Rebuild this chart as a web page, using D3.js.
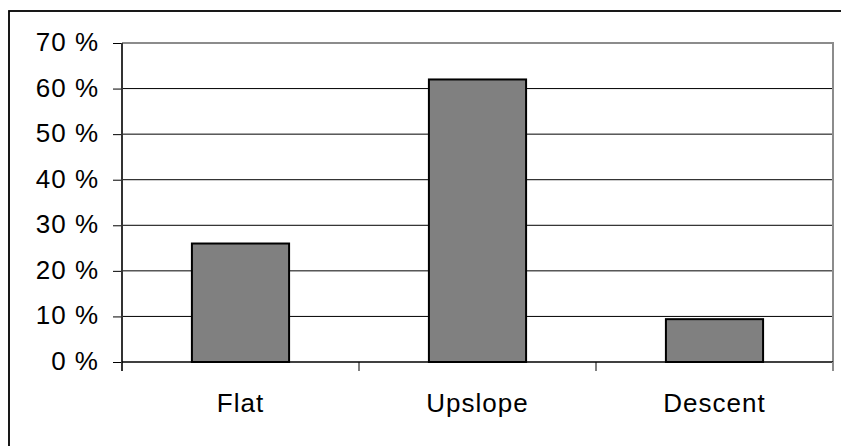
<!DOCTYPE html>
<html>
<head>
<meta charset="utf-8">
<script src="https://cdn.jsdelivr.net/npm/d3@7"></script>
<style>
  html, body { margin: 0; padding: 0; background: #fff; }
  svg { display: block; font-family: "Liberation Sans", Arial, sans-serif; }
</style>
</head>
<body>
<svg id="chart" width="841" height="446"></svg>
<script>
// Share of cases by terrain type
const categories = ["Flat", "Upslope", "Descent"];
const shares = [26, 62, 9.4];
const yTicks = [0, 10, 20, 30, 40, 50, 60, 70];

const svg = d3.select("#chart");
const plot = { left: 122, right: 833, top: 43, bottom: 362 };
const FONT = 26;

// Outer frame (its right and bottom edges run off the canvas)
svg.append("rect")
  .attr("x", 9).attr("y", 11)
  .attr("width", 900).attr("height", 500)
  .attr("fill", "none").attr("stroke", "#000").attr("stroke-width", 1.8);

const x = d3.scaleBand()
  .domain(categories)
  .range([plot.left, plot.right])
  .paddingInner(0.59)
  .paddingOuter(0.295);

const y = d3.scaleLinear().domain([0, 70]).range([plot.bottom, plot.top]);

// Horizontal gridlines
svg.append("g").selectAll("line")
  .data(yTicks.filter(d => d > 0 && d < 70))
  .join("line")
  .attr("x1", plot.left).attr("x2", plot.right)
  .attr("y1", d => y(d)).attr("y2", d => y(d))
  .attr("stroke", "#000").attr("stroke-width", 1);

// Plot area frame: grey top and right edges
svg.append("path")
  .attr("d", `M${plot.left},${plot.top}H${plot.right}V${plot.bottom}`)
  .attr("fill", "none").attr("stroke", "#8c8c8c").attr("stroke-width", 2);

// Bars
svg.append("g").selectAll("rect")
  .data(categories.map((c, i) => ({ c, v: shares[i] })))
  .join("rect")
  .attr("x", d => x(d.c))
  .attr("width", x.bandwidth())
  .attr("y", d => y(d.v))
  .attr("height", d => y(0) - y(d.v))
  .attr("fill", "#808080")
  .attr("stroke", "#000").attr("stroke-width", 2);

// Y axis
const yAxis = svg.append("g")
  .attr("transform", `translate(${plot.left},0)`)
  .call(d3.axisLeft(y).tickValues(yTicks).tickSize(9).tickPadding(14)
    .tickFormat(d => d + " %"));
yAxis.select(".domain").remove();
yAxis.selectAll(".tick line").attr("stroke", "#000").attr("stroke-width", 1);
yAxis.selectAll(".tick text")
  .attr("fill", "#000")
  .attr("font-size", FONT)
  .attr("letter-spacing", 1)
  .attr("font-family", "'Liberation Sans', Arial, sans-serif")
  .attr("dy", "0.29em");
yAxis.append("line")
  .attr("x1", 0).attr("x2", 0)
  .attr("y1", plot.top).attr("y2", plot.bottom + 9)
  .attr("stroke", "#333").attr("stroke-width", 2);

// X axis: baseline, tick marks at category boundaries, labels
const xg = svg.append("g");
xg.append("line")
  .attr("x1", plot.left).attr("x2", plot.right)
  .attr("y1", plot.bottom).attr("y2", plot.bottom)
  .attr("stroke", "#000").attr("stroke-width", 1.5);
const bounds = d3.range(categories.length + 1).map(i => plot.left + i * (plot.right - plot.left) / categories.length);
xg.selectAll("line.tk")
  .data(bounds.slice(1))
  .join("line").attr("class", "tk")
  .attr("x1", d => d).attr("x2", d => d)
  .attr("y1", plot.bottom).attr("y2", plot.bottom + 9)
  .attr("stroke", (d, i) => i === categories.length - 1 ? "#8c8c8c" : "#000")
  .attr("stroke-width", (d, i) => i === categories.length - 1 ? 2 : 1);
xg.selectAll("text")
  .data(categories)
  .join("text")
  .attr("x", d => x(d) + x.bandwidth() / 2)
  .attr("y", 412)
  .attr("text-anchor", "middle")
  .attr("font-size", FONT)
  .attr("letter-spacing", 1)
  .attr("fill", "#000")
  .text(d => d);
</script>
</body>
</html>
